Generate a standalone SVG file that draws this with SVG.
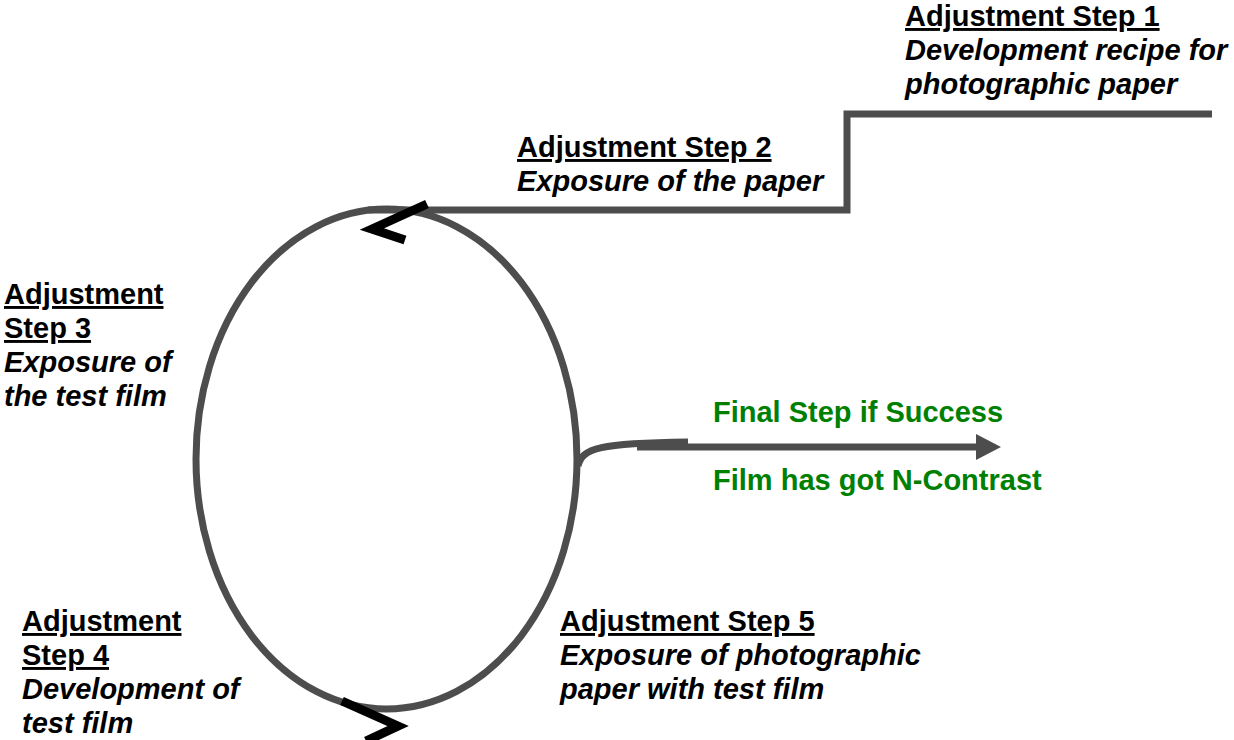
<svg xmlns="http://www.w3.org/2000/svg" width="1234" height="740" viewBox="0 0 1234 740">
<style>
text{font-family:"Liberation Sans",Arial,sans-serif;font-size:29px;font-weight:bold;fill:#000}
.h{text-decoration:underline}
.i{font-style:italic}
.g{fill:#008000}
.ln{fill:none;stroke:#4d4d4d;stroke-width:7}
.chev{fill:none;stroke:#000;stroke-width:9;stroke-linejoin:miter;stroke-linecap:butt}
</style>
<rect width="1234" height="740" fill="#fff"/>
<g id="connectors">
<ellipse class="ln" cx="386.5" cy="459" rx="190.5" ry="250"/>
<polyline class="ln" points="368,210 847,210 847,114 1212,114" stroke-linejoin="miter"/>
<path class="ln" d="M578,466 C582,448 600,443 688,442" stroke-width="6"/>
<line class="ln" x1="637" y1="447" x2="978" y2="447"/>
<polygon points="976,434 1001,447 976,460" fill="#4d4d4d"/>
<polyline class="chev" points="427,204 372,229 405,240"/>
<polyline class="chev" points="342,701 398,726 366,741"/>
</g>
<g id="step1">
<text x="905" y="26" class="h">Adjustment Step 1</text>
<text x="905" y="60" class="i">Development recipe for</text>
<text x="905" y="94" class="i">photographic paper</text>
</g>
<g id="step2">
<text x="517" y="157" class="h">Adjustment Step 2</text>
<text x="517" y="191" class="i">Exposure of the paper</text>
</g>
<g id="step3">
<text x="4" y="304" class="h">Adjustment</text>
<text x="4" y="338" class="h">Step 3</text>
<text x="4" y="372" class="i">Exposure of</text>
<text x="4" y="406" class="i">the test film</text>
</g>
<g id="step4">
<text x="22" y="631" class="h">Adjustment</text>
<text x="22" y="665" class="h">Step 4</text>
<text x="22" y="699" class="i">Development of</text>
<text x="22" y="733" class="i">test film</text>
</g>
<g id="step5">
<text x="560" y="631" class="h">Adjustment Step 5</text>
<text x="560" y="665" class="i">Exposure of photographic</text>
<text x="560" y="699" class="i">paper with test film</text>
</g>
<g id="final">
<text x="713" y="422" class="g">Final Step if Success</text>
<text x="713" y="490" class="g">Film has got N-Contrast</text>
</g>
</svg>
